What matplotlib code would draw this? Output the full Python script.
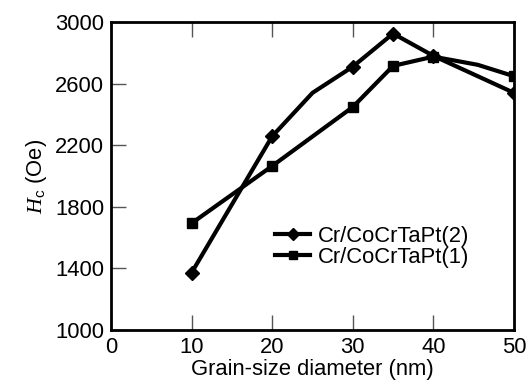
import matplotlib
matplotlib.use("Agg")
import matplotlib.pyplot as plt

plt.rcParams['font.family'] = 'Liberation Sans'
plt.rcParams['mathtext.fontset'] = 'custom'
plt.rcParams['mathtext.it'] = 'Liberation Serif:italic'
plt.rcParams['mathtext.rm'] = 'Liberation Sans'

# data (unmarked points are kinks in the lines)
x2 = [10, 20, 25, 30, 35, 40, 50]
y2 = [1372, 2258, 2540, 2710, 2925, 2780, 2540]
marks2 = [0, 1, 3, 4, 5, 6]

x1 = [10, 20, 30, 35, 40, 45.5, 50]
y1 = [1693, 2065, 2448, 2715, 2775, 2722, 2648]
marks1 = [0, 1, 2, 3, 4, 6]

labels = ['Cr/CoCrTaPt(2)', 'Cr/CoCrTaPt(1)']
xticks = [0, 10, 20, 30, 40, 50]
yticks = [1000, 1400, 1800, 2200, 2600, 3000]

fs = 15.8

fig = plt.figure(figsize=(5.29, 3.85), dpi=100)
ax = fig.add_axes([111 / 529, 1 - 330 / 385, 403 / 529, 308 / 385])

ax.plot(x2, y2, color='black', lw=3, marker='D', ms=7, markevery=marks2,
        label=labels[0], solid_joinstyle='miter')
ax.plot(x1, y1, color='black', lw=3, marker='s', ms=7, markevery=marks1,
        label=labels[1], solid_joinstyle='miter')

ax.set_xlim(0, 50)
ax.set_ylim(1000, 3000)
ax.set_xticks(xticks)
ax.set_yticks(yticks)
ax.tick_params(axis='both', direction='in', length=11, width=1, color='#555555',
               labelsize=fs, pad=5)
ax.tick_params(axis='x', top=True)
for s in ax.spines.values():
    s.set_linewidth(2)

ax.set_xlabel('Grain-size diameter (nm)', fontsize=fs, labelpad=1)
ax.set_ylabel(r'$\mathit{H}_\mathrm{c}$ (Oe)', fontsize=fs, labelpad=4)

leg = ax.legend(loc='center left', bbox_to_anchor=(0.38, 0.27), frameon=False,
                fontsize=fs, handlelength=1.6, handletextpad=0.35,
                labelspacing=0.0, borderpad=0)
for h in leg.legend_handles:
    h.set_markersize(6)

fig.savefig('out.png', dpi=100)
